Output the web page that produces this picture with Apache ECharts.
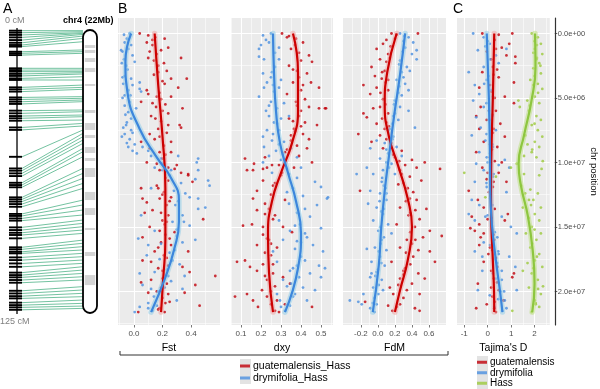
<!DOCTYPE html>
<html><head><meta charset="utf-8">
<script src="https://cdn.jsdelivr.net/npm/echarts@6/dist/echarts.min.js"></script>
<style>html,body{margin:0;padding:0;background:#fff}#c{width:600px;height:389px}</style>
</head><body><div id="c"></div><script>
// ---------------- DATA ----------------
// Panel A: genetic map markers (cM) and their physical position (Mb)
const MARKER_CM = [0.3,1.2,2.2,3.3,4.5,5.7,6.7,7.4,9.7,10.4,11.2,17.1,17.9,18.6,19.6,20.5,21.6,22.3,25.6,26.5,27.5,30.1,31.0,32.0,33.0,36.0,37.2,38.4,39.4,40.5,43.5,44.6,56.6,61.8,62.8,64.0,65.2,68.2,69.2,70.2,74.7,75.6,76.6,77.7,78.9,82.1,83.0,84.1,85.1,88.1,89.3,90.5,91.5,93.0,97.0,97.9,99.0,99.7,101.5,102.7,104.2,105.7,108.3,109.4,110.4,111.6,112.8,116.4,117.6,118.8,119.8,121.7,122.8,123.8,124.9];
const MARKER_MB = [0.05,0.13,0.21,0.26,0.34,0.47,0.65,0.91,1.55,1.68,1.81,2.98,3.11,3.24,3.32,3.42,3.63,3.89,4.28,4.46,4.61,5.18,5.31,5.44,5.57,6.22,6.35,6.61,6.74,7.00,7.26,7.46,7.77,8.03,8.29,8.55,8.81,9.20,9.46,9.85,10.75,11.14,11.53,11.92,12.31,13.22,13.60,13.99,14.38,14.77,15.03,15.29,15.55,15.81,16.33,16.58,16.84,17.10,17.36,17.62,17.88,18.14,18.40,18.66,18.92,19.18,19.43,19.95,20.21,20.47,20.73,20.99,21.25,21.46,21.64];
const CHR_LENGTH_MB = 22;
const GENMAP_MAX_CM = 125;
const BAND_START = [1.17,1.55,2.18,2.95,4.20,6.22,7.23,8.16,9.10,9.95,10.73,12.59,13.84,15.39,17.26,19.05];
const BAND_END   = [1.40,1.79,2.49,3.27,4.35,6.45,7.77,8.40,9.56,10.18,11.43,13.22,14.38,15.55,17.57,19.83];

// Shared position axis (Mb)
const POS_TICKS = [0,5,10,15,20];
const POS_MINOR = [2.5,7.5,12.5,17.5,22.5];

// Fst
const FST_TICKS = [0,0.2,0.4];
const FST_MINOR = [-0.1,0.1,0.3,0.5];
const FST_GUA = [[0.04,0],[0.10,0.15],[0.09,0.7],[0.13,0.5],[0.215,0.4],[0.24,1.1],[0.33,1.9],[0.11,1.4],[0.10,1.9],[0.17,2.5],[0.23,2.9],[0.26,3.5],[0.37,3.5],[0.31,4.2],[0.215,3.9],[0.09,4.4],[0.10,4.7],[0.05,5.3],[0.19,5.1],[0.26,4.9],[0.34,5.8],[0.13,5.4],[0.12,6.4],[0.32,7.1],[0.33,7.3],[0.24,7.1],[0.23,7.7],[0.11,7.8],[0.05,8.4],[0.145,8.2],[0.26,8.4],[0.11,8.9],[0.18,9.2],[0.26,9.2],[0.09,10],[0.16,10.1],[0.30,10.2],[0.38,10.9],[0.24,10.4],[0.285,10.5],[0.05,12.0],[0.16,11.8],[0.17,12.0],[0.38,11.0],[0.33,10.8],[0.41,11.5],[0.06,12.8],[0.09,13.1],[0.18,12.8],[0.26,12.7],[0.13,13.7],[0.075,13.9],[0.24,14.1],[0.485,14.4],[0.11,15.0],[0.215,14.8],[0.285,15.4],[0.06,15.8],[0.19,16.2],[0.26,16.4],[0.38,16.9],[0.145,16.9],[0.06,17.6],[0.12,17.7],[0.24,18.0],[0.34,18.1],[0.39,18.5],[0.57,18.8],[0.05,19.3],[0.12,19.1],[0.20,19.0],[0.43,19.5],[0.10,20.1],[0.24,20.2],[0.355,20.1],[0.46,21.1],[0.03,21.6],[0.18,21.3],[0.25,20.8],[0.215,21.6],[0.15,0.3],[0.16,1.6],[0.17,3.0],[0.18,4.6],[0.2,6.0],[0.19,6.8],[0.21,8.7],[0.2,9.7],[0.22,11.2],[0.21,12.3],[0.23,13.3],[0.2,14.5],[0.22,15.6],[0.21,17.2],[0.2,18.4],[0.19,19.7],[0.2,20.5],[0.14,2.1],[0.155,5.7],[0.17,7.4],[0.13,0.9],[0.19,1.3],[0.21,2.3],[0.14,3.2],[0.2,3.7],[0.16,4.9],[0.22,5.5],[0.15,6.6],[0.24,6.2],[0.18,8.0],[0.22,9.4],[0.18,10.6],[0.24,11.4],[0.2,12.5],[0.25,13.0],[0.19,13.9],[0.23,14.6],[0.18,15.3],[0.25,15.9],[0.17,16.6],[0.23,17.4],[0.17,18.2],[0.23,19.4],[0.16,20.0],[0.22,20.9],[0.17,21.4]];
const FST_DRY = [[-0.03,0],[-0.065,0.7],[-0.04,1.2],[-0.08,1.4],[-0.01,1.7],[-0.055,2.5],[0.005,2.2],[-0.065,3.3],[-0.08,3.4],[-0.02,3.5],[-0.01,4.0],[-0.04,4.4],[0.04,4.3],[0.05,4.5],[-0.065,4.8],[-0.03,5.3],[-0.065,5.6],[-0.04,6.1],[0.015,5.8],[-0.02,6.6],[-0.055,7.1],[-0.01,7.7],[-0.065,7.8],[-0.03,8.2],[0.005,8.6],[-0.04,8.8],[-0.01,9.1],[0.12,9.5],[0.19,9.7],[0.31,9.5],[0.45,9.7],[0.44,10.0],[0.145,10.4],[0.26,10.6],[0.45,10.6],[0.04,3.8],[-0.09,1.3],[0.20,10.6],[0.43,11.3],[0.52,11.4],[0.53,11.8],[0.12,12.0],[0.39,12.7],[0.45,12.8],[0.50,13.5],[0.05,14.1],[0.34,14.1],[0.39,14.9],[0.145,15.3],[0.30,15.7],[0.43,16.0],[0.10,16.4],[0.19,16.3],[0.285,16.8],[0.09,17.2],[0.18,17.5],[0.32,17.9],[0.355,18.8],[0.04,18.6],[0.24,18.8],[0.145,18.5],[0.06,19.5],[0.12,19.8],[0.215,19.7],[0.30,20.7],[0.04,21.2],[0.10,21.3],[0.005,21.6],[0.16,21.1],[0.34,19.8],[0.03,15.9],[0.45,13.6],[-0.05,0.4],[-0.07,2.0],[-0.06,6.3],[-0.075,7.3],[-0.05,8.5],[0.02,9.3],[0.28,12.2],[0.31,13.0],[0.27,14.6],[0.25,17.0],[0.2,19.3],[0.14,20.4],[-0.07,0.1],[-0.02,0.9],[-0.085,2.3],[-0.045,2.8],[-0.075,3.9],[-0.025,4.8],[-0.08,5.0],[-0.05,6.9],[-0.02,7.5],[-0.085,8.0],[0.06,8.8],[0.1,9.1],[0.2,10.1],[0.25,11.0],[0.33,11.6],[0.36,12.4],[0.29,13.3],[0.35,14.6],[0.3,15.2],[0.34,16.2],[0.27,17.6],[0.23,18.3],[0.26,19.2],[0.17,20.0],[0.1,20.9],[0.13,21.5]];
const FST_GUA_FIT = [[0.145,0],[0.17,4],[0.2,8],[0.22,12],[0.22,16],[0.205,19],[0.19,21.6]];
const FST_DRY_FIT = [[-0.02,0],[-0.06,2.2],[-0.045,4.6],[0.04,7.4],[0.16,9.6],[0.26,11.2],[0.315,12.9],[0.315,14.6],[0.28,16.8],[0.22,18.9],[0.12,21.6]];

// dxy
const DXY_TICKS = [0.1,0.2,0.3,0.4,0.5];
const DXY_MINOR = [0.05,0.15,0.25,0.35,0.45,0.55];
const DXY_GUA = [[0.305,0],[0.33,0.3],[0.375,0.4],[0.41,0.7],[0.35,1.2],[0.44,1.7],[0.455,2.2],[0.40,2.1],[0.34,2.5],[0.38,2.9],[0.43,3.1],[0.45,3.8],[0.36,3.8],[0.49,4.2],[0.40,4.4],[0.33,4.7],[0.42,5.1],[0.375,5.3],[0.44,5.7],[0.525,5.8],[0.39,6.4],[0.34,6.6],[0.42,6.9],[0.48,7.1],[0.365,7.4],[0.41,7.8],[0.44,8.2],[0.35,8.3],[0.38,8.7],[0.43,8.9],[0.32,9.2],[0.39,9.5],[0.12,9.7],[0.165,10.1],[0.255,10.2],[0.21,10.5],[0.365,10.4],[0.305,10.8],[0.13,10.6],[0.455,10.0],[0.16,12.8],[0.22,13.2],[0.32,12.9],[0.18,13.7],[0.27,14.1],[0.11,14.9],[0.155,14.8],[0.21,15.0],[0.31,15.0],[0.355,15.4],[0.23,15.9],[0.18,16.4],[0.28,16.6],[0.08,17.7],[0.12,17.6],[0.145,18.1],[0.18,18.4],[0.21,17.9],[0.31,18.9],[0.26,18.6],[0.07,20.4],[0.13,20.2],[0.205,19.9],[0.16,20.7],[0.28,20.7],[0.32,21.0],[0.455,21.2],[0.185,21.2],[0.23,19.1],[0.345,19.4],[0.16,10.6],[0.22,9.6],[0.49,5.8],[0.52,5.8],[0.23,10.4],[0.21,11.4],[0.18,12.2],[0.37,0.9],[0.39,3.4],[0.4,6.0],[0.37,7.6],[0.3,11.0],[0.26,11.8],[0.24,13.6],[0.24,16.0],[0.25,17.2],[0.25,20.0],[0.27,21.5],[0.34,0.2],[0.39,1.5],[0.36,2.8],[0.41,4.0],[0.38,5.6],[0.36,6.8],[0.4,7.2],[0.35,7.9],[0.33,9.0],[0.29,10.2],[0.27,11.6],[0.25,12.5],[0.22,14.0],[0.26,14.4],[0.21,15.6],[0.25,16.3],[0.22,17.0],[0.26,17.9],[0.22,18.8],[0.27,19.6],[0.23,20.4],[0.25,21.0],[0.29,21.6]];
const DXY_DRY = [[0.21,0.15],[0.225,0.5],[0.20,0.9],[0.25,0.0],[0.29,1.1],[0.19,1.8],[0.215,2.0],[0.29,2.0],[0.21,3.1],[0.255,3.0],[0.23,3.8],[0.30,3.6],[0.215,4.2],[0.265,4.5],[0.19,4.9],[0.25,5.3],[0.315,5.4],[0.225,6.0],[0.28,5.8],[0.24,6.4],[0.34,6.4],[0.265,6.9],[0.23,7.5],[0.29,7.5],[0.21,8.0],[0.255,8.3],[0.315,8.4],[0.215,8.8],[0.275,9.1],[0.35,8.9],[0.24,9.5],[0.21,10.0],[0.38,9.6],[0.33,10.5],[0.40,10.4],[0.255,10.8],[0.19,1.2],[0.47,11.5],[0.535,12.7],[0.50,11.9],[0.41,12.6],[0.53,12.8],[0.34,13.2],[0.48,13.3],[0.38,13.9],[0.445,14.2],[0.29,14.5],[0.395,14.8],[0.50,15.1],[0.345,15.3],[0.43,15.8],[0.31,16.0],[0.46,16.4],[0.37,16.7],[0.51,16.9],[0.40,17.3],[0.28,17.7],[0.49,18.0],[0.345,18.4],[0.445,18.6],[0.52,18.2],[0.31,19.1],[0.41,19.7],[0.37,20.2],[0.47,19.9],[0.295,20.7],[0.345,21.1],[0.43,20.7],[0.32,21.5],[0.28,20.2],[0.50,18.9],[0.26,16.9],[0.27,2.6],[0.26,4.0],[0.28,7.0],[0.3,9.8],[0.36,12.0],[0.39,14.0],[0.4,16.2],[0.38,18.0],[0.35,19.4],[0.24,0.7],[0.27,1.5],[0.25,3.4],[0.29,4.2],[0.24,5.6],[0.3,6.6],[0.26,7.8],[0.29,8.6],[0.31,9.4],[0.34,10.9],[0.38,11.2],[0.33,12.3],[0.42,13.6],[0.37,14.9],[0.42,15.5],[0.38,16.1],[0.42,17.6],[0.36,18.2],[0.39,18.9],[0.33,19.6],[0.36,20.4],[0.3,21.2]];
const DXY_GUA_FIT = [[0.36,0],[0.385,3],[0.385,6],[0.355,8.5],[0.3,10.8],[0.255,13],[0.235,15.5],[0.24,18.5],[0.26,21.6]];
const DXY_DRY_FIT = [[0.26,0],[0.265,3],[0.275,6],[0.295,8.5],[0.335,10.8],[0.375,13],[0.4,15.5],[0.385,18.2],[0.32,21.6]];

// FdM
const FDM_TICKS = [-0.2,0,0.2,0.4,0.6];
const FDM_MINOR = [-0.3,-0.1,0.1,0.3,0.5,0.7];
const FDM_GUA = [[0.16,0],[0.22,0.1],[0.06,0.8],[-0.015,1.2],[0.12,1.6],[0.025,2.0],[-0.075,2.6],[0.08,2.9],[-0.035,3.3],[0.045,3.5],[-0.17,4.0],[-0.015,4.2],[0.12,4.4],[-0.09,4.7],[0.06,5.1],[-0.17,6.2],[-0.13,6.5],[-0.055,5.8],[0.025,5.7],[0.12,6.2],[-0.015,7.0],[0.08,7.4],[-0.23,7.8],[0.025,7.9],[-0.075,8.4],[0.16,8.5],[0.06,8.9],[0.28,9.1],[0.20,9.6],[0.40,9.8],[0.32,10.2],[0.55,10.0],[0.455,10.4],[0.26,10.6],[0.73,10.5],[0.375,11.1],[0.51,11.4],[0.24,11.7],[-0.21,12.2],[0.415,12.3],[0.10,0.5],[0.47,0.0],[0.455,12.9],[0.57,13.6],[0.26,13.5],[0.36,14.1],[0.49,14.4],[0.22,14.8],[0.435,15.0],[0.75,15.7],[0.53,15.8],[0.34,16.0],[0.26,16.6],[0.475,16.8],[0.61,16.9],[0.415,17.3],[0.67,17.7],[0.16,17.7],[0.32,18.2],[0.475,18.6],[0.55,19.0],[0.26,19.0],[0.40,19.4],[0.14,19.7],[0.34,19.9],[0.49,20.2],[0.12,21.1],[0.26,21.0],[0.435,21.3],[0.49,21.5],[-0.15,20.8],[0.18,20.2],[0.61,15.3],[0.375,12.8],[0.14,1.9],[0.09,3.8],[0.1,6.9],[0.18,9.4],[0.3,11.6],[0.38,13.9],[0.4,16.3],[0.3,18.7],[0.22,21.2],[0.2,0.4],[0.15,1.0],[0.1,2.2],[0.05,3.0],[0.12,3.6],[0.03,4.6],[0.09,5.5],[0.05,6.6],[0.13,7.2],[0.1,8.2],[0.25,9.9],[0.28,10.9],[0.35,12.0],[0.33,13.0],[0.44,13.7],[0.38,15.4],[0.44,16.0],[0.33,17.0],[0.38,17.9],[0.3,18.4],[0.24,19.5],[0.3,20.5],[0.17,21.5]];
const FDM_DRY = [[0.26,0.0],[0.36,0.3],[0.415,0.7],[0.32,1.1],[0.40,1.6],[0.455,2.0],[0.26,2.1],[0.34,2.6],[0.28,3.0],[0.22,3.6],[0.32,3.9],[0.36,4.4],[0.28,4.8],[0.20,5.2],[0.26,5.7],[0.36,6.0],[0.18,6.4],[0.24,6.7],[0.435,7.3],[0.12,7.5],[0.18,8.0],[-0.015,8.3],[0.08,8.5],[0.22,8.8],[-0.09,8.9],[0.12,9.3],[0.28,9.5],[0.025,9.7],[0.16,10.1],[-0.13,10.4],[-0.055,10.9],[0.06,10.6],[-0.25,10.9],[0.20,10.9],[0.045,11.5],[-0.09,12.2],[0.10,12.4],[0.375,2.9],[0.455,1.3],[0.025,12.4],[0.10,12.9],[-0.015,13.5],[0.06,14.0],[-0.055,14.5],[0.12,14.8],[0.005,15.3],[0.16,15.5],[0.045,16.0],[-0.035,16.6],[0.10,16.8],[0.025,17.3],[-0.075,17.7],[0.08,18.0],[-0.015,18.5],[-0.09,18.9],[0.045,19.1],[-0.055,19.7],[-0.17,20.2],[0.005,20.2],[-0.33,20.7],[-0.19,21.0],[-0.09,21.3],[-0.015,21.0],[-0.23,20.8],[0.06,19.9],[-0.075,18.6],[-0.13,16.7],[-0.115,13.2],[0.3,0.6],[0.25,4.1],[0.17,7.0],[0.1,10.0],[0.07,11.8],[0.04,13.8],[0.03,16.3],[0.0,18.3],[-0.04,20.5],[0.31,0.2],[0.29,1.4],[0.25,2.4],[0.3,3.4],[0.24,4.6],[0.19,5.5],[0.2,6.2],[0.14,7.4],[0.17,8.2],[0.1,9.0],[0.13,10.4],[0.05,11.2],[0.09,12.0],[0.02,13.0],[0.07,13.6],[0.03,15.0],[0.07,15.8],[0.01,16.9],[0.04,17.8],[-0.03,18.8],[0.01,19.5],[-0.06,20.9],[-0.04,21.6]];
const FDM_GUA_FIT = [[0.22,0],[0.11,3],[0.08,5.5],[0.13,8],[0.24,10.3],[0.35,12.8],[0.4,15],[0.35,17.6],[0.26,19.9],[0.2,21.6]];
const FDM_DRY_FIT = [[0.32,0],[0.26,3.2],[0.19,6.4],[0.13,9.5],[0.08,12.2],[0.04,15],[0.01,18],[-0.06,21.6]];

// Tajima's D
const TAJ_TICKS = [-1,0,1,2];
const TAJ_MINOR = [-0.5,0.5,1.5,2.5];
const TAJ_GUA = [[-0.23,0.0],[0.47,0.1],[1.05,0.0],[0.60,1.1],[-0.04,1.4],[0.80,1.7],[1.18,2.3],[0.22,2.6],[-0.23,3.0],[0.47,3.4],[1.12,3.8],[-0.36,4.2],[0.15,4.5],[0.73,4.9],[1.12,5.4],[-0.30,5.7],[0.35,6.0],[-0.49,6.4],[-0.04,6.7],[0.54,7.0],[-0.36,7.4],[0.22,7.7],[0.73,8.0],[-0.17,8.4],[0.41,8.8],[-0.49,9.2],[0.09,9.6],[0.60,10.0],[-0.23,10.4],[0.47,10.8],[-0.04,11.3],[0.80,11.5],[0.22,11.9],[-0.81,12.2],[1.18,1.8],[0.92,0.8],[-0.42,12.9],[-0.17,13.5],[-0.68,14.2],[-0.36,14.8],[-0.74,15.1],[-0.17,15.5],[0.86,14.0],[0.73,14.5],[0.28,16.0],[-0.36,16.4],[0.03,17.1],[1.12,18.6],[1.05,18.9],[-0.42,19.4],[0.15,19.7],[0.47,19.9],[-0.49,21.3],[-0.04,21.0],[0.28,21.3],[0.67,20.7],[-0.17,17.7],[0.41,18.1],[-0.55,15.3],[-0.30,15.8],[0.3,0.5],[0.25,3.2],[0.2,6.3],[0.18,9.0],[0.12,12.6],[0.16,14.3],[0.2,16.8],[0.26,19.0],[0.3,20.8],[0.35,1.2],[0.15,2.0],[0.4,2.8],[0.1,4.0],[0.3,5.0],[0.05,6.0],[0.25,7.4],[0.1,8.6],[0.3,9.9],[0.0,10.8],[0.25,11.5],[0.05,12.3],[0.3,13.6],[0.0,14.4],[0.25,15.6],[0.1,16.6],[0.35,17.4],[0.15,18.4],[0.4,19.3],[0.2,20.4],[0.35,21.6]];
const TAJ_DRY = [[-0.62,0.0],[-0.17,0.3],[0.09,0.8],[-0.42,1.3],[0.35,1.7],[-0.81,3.0],[-0.17,2.6],[-0.55,4.0],[-0.04,3.6],[-0.36,4.7],[0.22,4.9],[-0.62,5.2],[-0.17,5.7],[-0.49,6.5],[0.09,6.7],[-0.30,7.3],[0.35,7.5],[-0.68,7.9],[-0.10,8.3],[0.22,8.8],[-0.36,9.2],[-0.04,9.6],[0.73,9.8],[-0.49,10.1],[0.47,10.2],[0.92,10.4],[-0.17,10.6],[0.22,11.1],[-0.55,11.5],[-0.04,11.9],[0.80,12.3],[0.80,1.2],[0.47,2.3],[-0.68,12.9],[-0.36,13.3],[-0.81,14.0],[-0.55,14.5],[-0.10,14.2],[0.60,14.2],[0.99,15.0],[1.24,15.5],[-0.55,16.9],[-0.23,17.3],[0.47,17.1],[0.92,17.3],[1.18,18.1],[-0.23,18.4],[0.22,18.6],[0.60,19.1],[1.24,19.9],[-0.42,19.9],[0.09,20.3],[0.73,20.7],[0.28,21.2],[-0.17,16.2],[0.41,15.8],[0.0,0.6],[0.03,3.3],[0.06,6.0],[0.1,9.3],[0.1,12.8],[0.2,15.2],[0.4,17.8],[0.55,20.0],[0.62,21.5],[-0.1,1.0],[0.1,2.0],[-0.15,3.9],[0.15,4.4],[-0.05,5.4],[0.2,6.4],[-0.05,7.8],[0.2,8.6],[0.0,10.0],[0.25,10.9],[-0.05,11.6],[0.2,13.3],[0.0,14.1],[0.3,15.4],[0.1,16.4],[0.45,16.9],[0.25,17.5],[0.6,18.4],[0.35,19.0],[0.7,20.0],[0.45,20.6],[0.8,21.3]];
const TAJ_HASS = [[1.88,0],[2.14,0.3],[2.27,0.8],[2.01,1.2],[2.33,1.6],[2.08,2.0],[2.20,2.3],[1.95,2.7],[2.27,3.1],[1.82,3.6],[2.14,3.9],[2.33,4.3],[1.69,5.2],[2.01,4.9],[2.20,5.4],[1.76,6.0],[2.08,6.4],[2.27,6.7],[1.88,7.1],[2.14,7.5],[2.33,8.0],[2.01,8.4],[2.20,8.8],[1.88,9.2],[2.08,9.6],[1.82,12.1],[2.14,12.4],[1.95,12.9],[2.27,13.5],[2.01,14.0],[2.20,14.5],[1.88,15.0],[2.27,15.5],[2.08,16.0],[1.82,16.6],[2.20,17.1],[2.01,17.6],[2.33,18.1],[1.88,18.6],[2.14,19.1],[1.76,19.7],[2.27,20.2],[2.01,20.7],[2.20,21.2],[1.88,21.6],[1.31,5.2],[1.37,5.7],[1.43,11.8],[1.50,13.5],[1.63,15.5],[-1.0,10.8],[1.24,10.1],[0.35,11.1],[0.99,10.4],[-0.10,12.7],[1.50,18.4],[1.76,12.9],[1.05,21.5],[2.0,0.6],[2.1,1.9],[1.95,4.0],[2.3,10.5],[2.2,11.0],[2.35,9.9],[1.7,17.8],[2.36,19.6],[2.05,20.9],[1.6,7.9],[1.55,9.5],[2.1,0.9],[1.95,1.5],[2.25,2.5],[2.0,3.3],[2.15,4.6],[1.8,5.6],[2.0,7.0],[1.7,8.6],[1.9,9.0],[1.55,10.9],[1.6,12.4],[1.85,13.3],[1.75,14.3],[2.0,15.2],[1.9,16.3],[2.1,17.3],[1.95,18.2],[2.15,19.8],[2.05,21.0]];
const TAJ_GUA_FIT = [[0.28,0],[0.22,5],[0.15,10],[0.14,12.5],[0.16,15],[0.22,17.6],[0.27,20],[0.28,21.6]];
const TAJ_DRY_FIT = [[-0.04,0],[0.05,5],[0.1,9.5],[0.11,12.2],[0.18,14.8],[0.35,17.6],[0.52,19.9],[0.63,21.6]];
const TAJ_HASS_FIT = [[2.02,0],[2.04,2.6],[1.86,5.3],[1.55,7.9],[1.32,10.1],[1.42,11.8],[1.72,14.2],[1.92,16.8],[2.0,19.4],[1.9,21.6]];

// ---------------- STYLE ----------------
const FONT = '"Liberation Sans", Arial, sans-serif';
const C = {
  gua: {pt:'#C0000A', line:'#CC0000', rib:'rgba(240,160,160,0.5)'},
  dry: {pt:'#4A8FE0', line:'#3C86DC', rib:'rgba(150,205,232,0.55)'},
  hass:{pt:'#9CC93C', line:'#8DC63F', rib:'rgba(190,224,130,0.55)'}
};
const Y_MIN = -1.2, Y_MAX = 22.6;

function sci(v){
  const s = (v*1e6).toExponential(1);
  return s.replace(/e([+-])(\d+)$/, (m,sg,d)=>'e'+sg+(d.length<2?'0'+d:d));
}

const grids = [], xAxes = [], yAxes = [], series = [];

// ----- Panel A -----
grids.push({left:9, top:30, width:88, height:283, show:false});
xAxes.push({gridIndex:0, type:'value', min:0, max:1, show:false});
yAxes.push({gridIndex:0, type:'value', min:0, max:CHR_LENGTH_MB, inverse:true, show:false});
const A_TICK_L = 0, A_TICK_R = 0.148, A_AXIS_X = 0.091, A_CHR_L = 0.841, A_CHR_R = 1.0;
const GENMAP_SPAN_MB = 21.77; // axis extent occupied by 0..125 cM
const cm2axis = cm => cm / GENMAP_MAX_CM * GENMAP_SPAN_MB;
const markerData = MARKER_CM.map((c,i)=>[c, MARKER_MB[i]]);

series.push({type:'custom', xAxisIndex:0, yAxisIndex:0, silent:true, z:2, clip:false,
  data: markerData,
  renderItem:(p,api)=>{
    const yl = api.coord([0, cm2axis(api.value(0))])[1];
    const yr = api.coord([0, api.value(1)])[1];
    const x0 = api.coord([A_TICK_R,0])[0], x1 = api.coord([A_CHR_L,0])[0];
    return {type:'line', shape:{x1:x0,y1:yl,x2:x1,y2:yr}, style:{stroke:'#74C3A1', lineWidth:1}};
  }});
series.push({type:'custom', xAxisIndex:0, yAxisIndex:0, silent:true, z:3, clip:false,
  data: [[0, GENMAP_MAX_CM]],
  renderItem:(p,api)=>{
    const x = api.coord([A_AXIS_X,0])[0];
    const y0 = api.coord([0, cm2axis(api.value(0))])[1]-2, y1 = api.coord([0, cm2axis(api.value(1))])[1]+4;
    return {type:'line', shape:{x1:x,y1:y0,x2:x,y2:y1}, style:{stroke:'#000', lineWidth:1.3}};
  }});
series.push({type:'custom', xAxisIndex:0, yAxisIndex:0, silent:true, z:4, clip:false,
  data: markerData,
  renderItem:(p,api)=>{
    const y = api.coord([0, cm2axis(api.value(0))])[1];
    const xa = api.coord([A_TICK_L,0])[0], xb = api.coord([A_TICK_R,0])[0];
    return {type:'line', shape:{x1:xa,y1:y,x2:xb,y2:y}, style:{stroke:'#000', lineWidth:1.9}};
  }});
// chromosome body
series.push({type:'custom', xAxisIndex:0, yAxisIndex:0, silent:true, z:2, clip:false,
  data:[[0, CHR_LENGTH_MB]],
  renderItem:(p,api)=>{
    const a = api.coord([A_CHR_L, api.value(0)]), b = api.coord([A_CHR_R, api.value(1)]);
    return {type:'rect', shape:{x:a[0],y:a[1],width:b[0]-a[0],height:b[1]-a[1],r:7}, style:{fill:'#fff', stroke:null}};
  }});
series.push({type:'custom', xAxisIndex:0, yAxisIndex:0, silent:true, z:3, clip:false,
  data: BAND_START.map((s,i)=>[s, BAND_END[i]]),
  renderItem:(p,api)=>{
    const a = api.coord([A_CHR_L+0.02, api.value(0)]), b = api.coord([A_CHR_R-0.02, api.value(1)]);
    return {type:'rect', shape:{x:a[0],y:a[1],width:b[0]-a[0],height:Math.max(1,b[1]-a[1])}, style:{fill:'#D4D4D4'}};
  }});
series.push({type:'custom', xAxisIndex:0, yAxisIndex:0, silent:true, z:5, clip:false,
  data:[[0, CHR_LENGTH_MB]],
  renderItem:(p,api)=>{
    const a = api.coord([A_CHR_L, api.value(0)]), b = api.coord([A_CHR_R, api.value(1)]);
    return {type:'rect', shape:{x:a[0],y:a[1],width:b[0]-a[0],height:b[1]-a[1],r:7}, style:{fill:'none', stroke:'#000', lineWidth:1.8}};
  }});

// ----- Panels B & C -----
const PANELS = [
  {left:118, width:102, min:-0.112, max:0.603, ticks:FST_TICKS, minor:FST_MINOR, dec:1, title:'Fst',
   groups:[['guatemalensis_Hass',C.gua,FST_GUA,FST_GUA_FIT],['drymifolia_Hass',C.dry,FST_DRY,FST_DRY_FIT]]},
  {left:231, width:102, min:0.05, max:0.56, ticks:DXY_TICKS, minor:DXY_MINOR, dec:1, title:'dxy',
   groups:[['guatemalensis_Hass',C.gua,DXY_GUA,DXY_GUA_FIT],['drymifolia_Hass',C.dry,DXY_DRY,DXY_DRY_FIT]]},
  {left:343, width:103, min:-0.41, max:0.80, ticks:FDM_TICKS, minor:FDM_MINOR, dec:1, title:'FdM',
   groups:[['guatemalensis_Hass',C.gua,FDM_GUA,FDM_GUA_FIT],['drymifolia_Hass',C.dry,FDM_DRY,FDM_DRY_FIT]]},
  {left:457, width:103, min:-1.31, max:2.65, ticks:TAJ_TICKS, minor:TAJ_MINOR, dec:0, title:"Tajima's D",
   groups:[['guatemalensis',C.gua,TAJ_GUA,TAJ_GUA_FIT],['drymifolia',C.dry,TAJ_DRY,TAJ_DRY_FIT],['Hass',C.hass,TAJ_HASS,TAJ_HASS_FIT]]}
];

PANELS.forEach((P, k)=>{
  const gi = k+1;
  const isLast = k === PANELS.length-1;
  grids.push({left:P.left, top:18, width:P.width, height:307, show:true, backgroundColor:'#EBEBEB', borderWidth:0});
  const xMaj = xAxes.length;
  xAxes.push({gridIndex:gi, type:'value', min:P.min, max:P.max, position:'bottom',
    name:P.title, nameLocation:'middle', nameGap:14, nameTextStyle:{fontFamily:FONT, fontSize:10.5, color:'#000'},
    axisLine:{show:false, onZero:false},
    axisTick:{show:true, customValues:P.ticks, length:2.5, lineStyle:{color:'#555', width:0.8}},
    axisLabel:{customValues:P.ticks, formatter:v=>Number(v).toFixed(P.dec), fontFamily:FONT, fontSize:8, color:'#4D4D4D', margin:5},
    splitLine:{show:true, lineStyle:{color:'#FFFFFF', width:1.1}}});
  xAxes.push({gridIndex:gi, type:'value', min:P.min, max:P.max, position:'top',
    axisLine:{show:false, onZero:false}, axisTick:{show:false, customValues:P.minor}, axisLabel:{show:false},
    splitLine:{show:true, lineStyle:{color:'#FFFFFF', width:0.55}}});
  const yMaj = yAxes.length;
  yAxes.push({gridIndex:gi, type:'value', min:Y_MIN, max:Y_MAX, inverse:true, position:'right', offset:isLast?5:0,
    name: isLast ? 'chr position' : '', nameLocation:'middle', nameRotate:-90, nameGap:31,
    nameTextStyle:{fontFamily:FONT, fontSize:9.5, color:'#000'},
    axisLine:{show:isLast, onZero:false, lineStyle:{color:'#333', width:1.2}},
    axisTick:{show:isLast, customValues:POS_TICKS, length:2.5, lineStyle:{color:'#333', width:0.8}},
    axisLabel:{show:isLast, customValues:POS_TICKS, formatter:sci, fontFamily:FONT, fontSize:7.5, color:'#4D4D4D', margin:3},
    splitLine:{show:true, lineStyle:{color:'#FFFFFF', width:1.1}}});
  yAxes.push({gridIndex:gi, type:'value', min:Y_MIN, max:Y_MAX, inverse:true, position:'left',
    axisLine:{show:false, onZero:false}, axisTick:{show:false, customValues:POS_MINOR}, axisLabel:{show:false},
    splitLine:{show:true, lineStyle:{color:'#FFFFFF', width:0.55}}});
  P.groups.forEach(([name, col, pts, fit])=>{
    series.push({type:'scatter', name, xAxisIndex:xMaj, yAxisIndex:yMaj, data:pts, symbolSize:2.8,
      itemStyle:{color:col.pt}, silent:true, z:2});
  });
  P.groups.forEach(([name, col, pts, fit])=>{
    series.push({type:'line', name, xAxisIndex:xMaj, yAxisIndex:yMaj, data:fit, smooth:0.5, showSymbol:false,
      lineStyle:{color:col.rib, width:5.5, cap:'round'}, itemStyle:{color:col.pt}, silent:true, z:3});
  });
  P.groups.forEach(([name, col, pts, fit])=>{
    series.push({type:'line', name, xAxisIndex:xMaj, yAxisIndex:yMaj, data:fit, smooth:0.5, showSymbol:false,
      lineStyle:{color:col.line, width:2.2}, itemStyle:{color:col.pt}, silent:true, z:4});
  });
});

const legendText = {fontFamily:FONT, color:'#000'};
const option = {
  animation:false,
  backgroundColor:'#fff',
  grid:grids, xAxis:xAxes, yAxis:yAxes, series,
  legend:[
    {data:['guatemalensis_Hass','drymifolia_Hass'], orient:'vertical', left:240, top:360, itemGap:0,
     itemWidth:10, itemHeight:3, icon:'rect', selectedMode:false, padding:0,
     textStyle:Object.assign({fontSize:10.5, lineHeight:12, padding:[0,0,0,-2]}, legendText)},
    {data:['guatemalensis','drymifolia','Hass'], orient:'vertical', left:477, top:357, itemGap:0,
     itemWidth:10, itemHeight:3, icon:'rect', selectedMode:false, padding:0,
     textStyle:Object.assign({fontSize:10, lineHeight:10.5, padding:[0,0,0,-2]}, legendText)}
  ],
  graphic:[
    {type:'text', left:3, top:2, style:{text:'A', font:'14px '+FONT, fill:'#000'}},
    {type:'text', left:118, top:2, style:{text:'B', font:'14px '+FONT, fill:'#000'}},
    {type:'text', left:453, top:2, style:{text:'C', font:'14px '+FONT, fill:'#000'}},
    {type:'text', left:63, top:16, style:{text:'chr4 (22Mb)', font:'bold 9px '+FONT, fill:'#000'}},
    {type:'text', left:5, top:16, style:{text:'0 cM', font:'9px '+FONT, fill:'#7F7F7F'}},
    {type:'text', left:0, top:317, style:{text:'125 cM', font:'9px '+FONT, fill:'#7F7F7F'}},
    {type:'polyline', shape:{points:[[120,351],[120,355],[448,355],[448,351]]}, style:{stroke:'#333', lineWidth:1, fill:null}},
    {type:'rect', shape:{x:240, y:359, width:11, height:25}, style:{fill:'#E3E3E3'}, z:-1},
    {type:'rect', shape:{x:477, y:356, width:11, height:33}, style:{fill:'#E3E3E3'}, z:-1}
  ]
};
const chart = echarts.init(document.getElementById('c'), null, {renderer:'canvas'});
chart.setOption(option);
</script></body></html>
